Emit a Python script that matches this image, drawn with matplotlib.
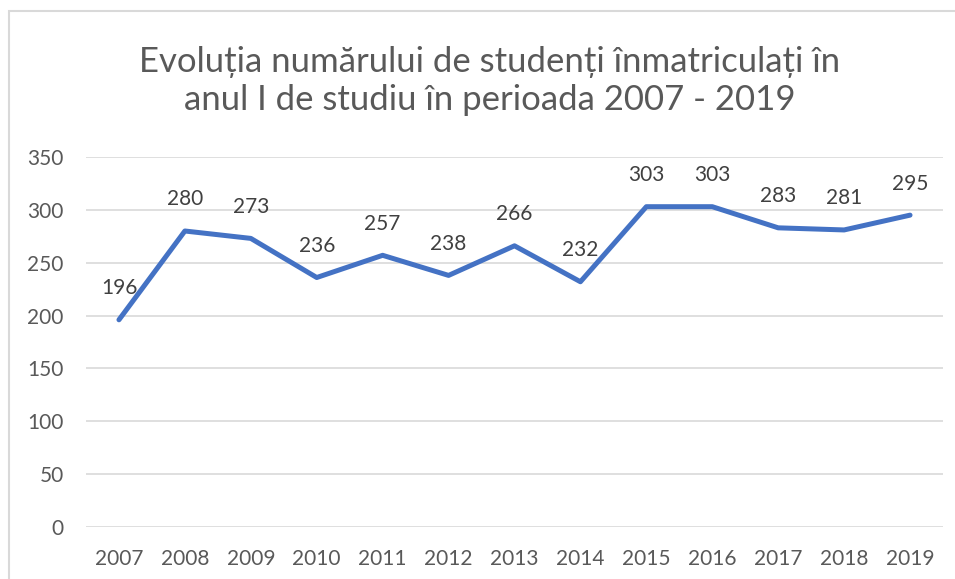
import matplotlib.pyplot as plt
from matplotlib.patches import Rectangle

years = ['2007', '2008', '2009', '2010', '2011', '2012', '2013',
         '2014', '2015', '2016', '2017', '2018', '2019']
students = [196, 280, 273, 236, 257, 238, 266, 232, 303, 303, 283, 281, 295]
y_ticks = [0, 50, 100, 150, 200, 250, 300, 350]

title = 'Evoluția numărului de studenți înmatriculați în\nanul I de studiu în perioada 2007 - 2019'

plt.rcParams['font.family'] = ['Lato', 'DejaVu Sans']

fig = plt.figure(figsize=(9.55, 5.79), dpi=100)
fig.patches.append(Rectangle((9 / 955, -0.1), 1.2, 1 - 11 / 579 + 0.1,
                             transform=fig.transFigure, fill=False,
                             edgecolor='#d9d9d9', linewidth=1.5))

ax = fig.add_axes([86 / 955, 1 - 527 / 579, (943 - 86) / 955, (527 - 157) / 579])

x = list(range(len(years)))
ax.plot(x, students, color='#4472c4', linewidth=3.6, solid_capstyle='round',
        solid_joinstyle='round', zorder=3)

for xi, v in zip(x, students):
    ax.annotate(str(v), (xi, v), xytext=(0, 15.5), textcoords='offset points',
                ha='center', va='bottom', fontsize=15, color='#404040')

ax.set_xlim(-0.5, len(years) - 0.5)
ax.set_ylim(0, 350)
ax.set_xticks(x)
ax.set_xticklabels(years)
ax.set_yticks(y_ticks)
ax.grid(axis='y', color='#d9d9d9', linewidth=1.2)
ax.set_axisbelow(True)
for s in ax.spines.values():
    s.set_visible(False)
ax.tick_params(length=0, labelsize=15, labelcolor='#595959')
ax.tick_params(axis='x', pad=16)
ax.tick_params(axis='y', pad=16)

fig.text(490 / 955, 1 - 81 / 579, title, ha='center', va='center',
         fontsize=25, color='#595959', linespacing=1.2)

fig.savefig('out.png', dpi=100)
